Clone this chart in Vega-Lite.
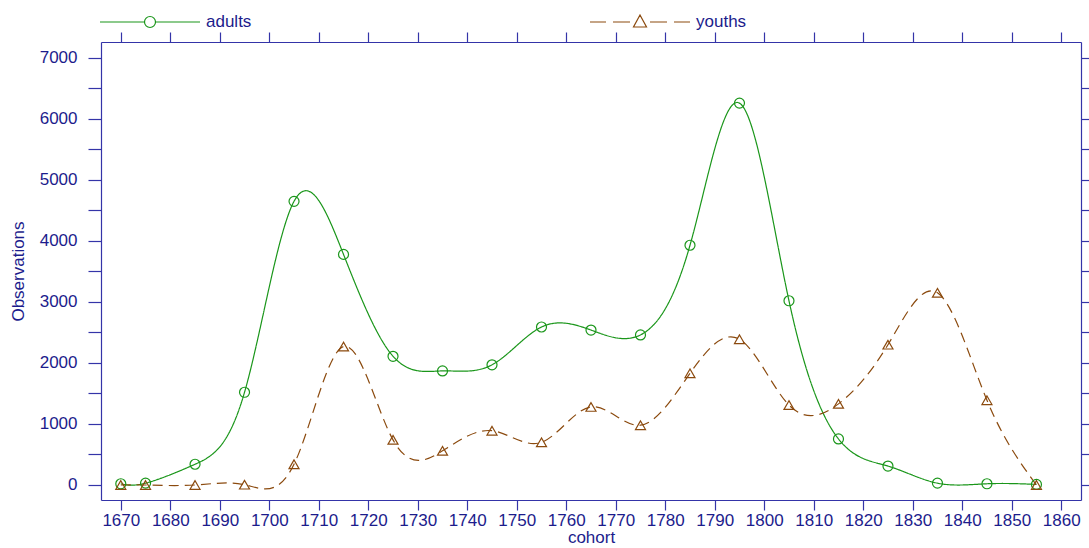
{
  "$schema": "https://vega.github.io/schema/vega-lite/v6.json",
  "width": 980,
  "height": 458,
  "autosize": {"type": "none"},
  "padding": {"left": 101, "top": 42, "right": 8, "bottom": 48},
  "config": {
    "view": {"stroke": null},
    "font": "Liberation Sans",
    "axis": {
      "domainColor": "#3434a8",
      "tickColor": "#3434a8",
      "labelColor": "#1c1c8c",
      "titleColor": "#1c1c8c",
      "labelFont": "Liberation Sans",
      "titleFont": "Liberation Sans",
      "labelFontSize": 17,
      "titleFontSize": 17,
      "titleFontWeight": "normal",
      "grid": false,
      "domainWidth": 1.2,
      "tickWidth": 1.2
    },
    "legend": {
      "labelFont": "Liberation Sans",
      "labelFontSize": 17,
      "labelColor": "#1c1c8c"
    }
  },
  "data": {
    "values": [
      {"cohort": 1670, "series": "adults", "value": 20},
      {"cohort": 1675, "series": "adults", "value": 30},
      {"cohort": 1685, "series": "adults", "value": 340},
      {"cohort": 1695, "series": "adults", "value": 1520},
      {"cohort": 1705, "series": "adults", "value": 4650},
      {"cohort": 1715, "series": "adults", "value": 3780},
      {"cohort": 1725, "series": "adults", "value": 2110},
      {"cohort": 1735, "series": "adults", "value": 1870},
      {"cohort": 1745, "series": "adults", "value": 1970},
      {"cohort": 1755, "series": "adults", "value": 2590},
      {"cohort": 1765, "series": "adults", "value": 2540},
      {"cohort": 1775, "series": "adults", "value": 2460},
      {"cohort": 1785, "series": "adults", "value": 3930},
      {"cohort": 1795, "series": "adults", "value": 6260},
      {"cohort": 1805, "series": "adults", "value": 3020},
      {"cohort": 1815, "series": "adults", "value": 755},
      {"cohort": 1825, "series": "adults", "value": 310},
      {"cohort": 1835, "series": "adults", "value": 30},
      {"cohort": 1845, "series": "adults", "value": 20},
      {"cohort": 1855, "series": "adults", "value": 10},
      {"cohort": 1670, "series": "youths", "value": 0},
      {"cohort": 1675, "series": "youths", "value": 0},
      {"cohort": 1685, "series": "youths", "value": 0},
      {"cohort": 1695, "series": "youths", "value": 5},
      {"cohort": 1705, "series": "youths", "value": 340},
      {"cohort": 1715, "series": "youths", "value": 2270},
      {"cohort": 1725, "series": "youths", "value": 740},
      {"cohort": 1735, "series": "youths", "value": 560},
      {"cohort": 1745, "series": "youths", "value": 890},
      {"cohort": 1755, "series": "youths", "value": 700},
      {"cohort": 1765, "series": "youths", "value": 1280},
      {"cohort": 1775, "series": "youths", "value": 980},
      {"cohort": 1785, "series": "youths", "value": 1830},
      {"cohort": 1795, "series": "youths", "value": 2390},
      {"cohort": 1805, "series": "youths", "value": 1310},
      {"cohort": 1815, "series": "youths", "value": 1330},
      {"cohort": 1825, "series": "youths", "value": 2300},
      {"cohort": 1835, "series": "youths", "value": 3150},
      {"cohort": 1845, "series": "youths", "value": 1390},
      {"cohort": 1855, "series": "youths", "value": 0}
    ]
  },
  "encoding": {
    "color": {
      "field": "series",
      "type": "nominal",
      "scale": {"domain": ["adults", "youths"], "range": ["#1a961a", "#8b4a0e"]},
      "legend": {
        "title": null,
        "orient": "none",
        "legendX": -2,
        "legendY": -71,
        "direction": "horizontal",
        "columns": 2,
        "columnPadding": 335,
        "symbolSize": 10000,
        "symbolStrokeWidth": 1.2,
        "symbolFillColor": "transparent",
        "symbolOpacity": 1,
        "symbolDash": [],
        "labelOffset": 5,
        "symbolType": {"expr": "datum.value === 'adults' ? 'M-1,0L-0.11,0M0.11,0L1,0M-0.11,0A0.11,0.11 0 1,0 0.11,0A0.11,0.11 0 1,0 -0.11,0' : 'M-1,0L-0.68,0M-0.54,0L-0.2,0M0.2,0L0.54,0M0.68,0L1,0M0,-0.14L0.13,0.1L-0.13,0.1Z'"}
      }
    }
  },
  "resolve": {"axis": {"x": "independent", "y": "independent"}},
  "layer": [
    {
      "mark": {"type": "line", "interpolate": "natural", "strokeWidth": 1.2, "opacity": 1},
      "encoding": {
        "x": {
          "field": "cohort",
          "type": "quantitative",
          "scale": {"domain": [1666, 1864], "nice": false, "zero": false},
          "axis": {
            "orient": "bottom",
            "title": "cohort",
            "values": [1670,1680,1690,1700,1710,1720,1730,1740,1750,1760,1770,1780,1790,1800,1810,1820,1830,1840,1850,1860],
            "format": "d",
            "tickSize": 10,
            "labelPadding": 2,
            "titlePadding": 1,
            "labelFlush": false,
            "labelOverlap": false
          }
        },
        "y": {
          "field": "value",
          "type": "quantitative",
          "scale": {"domain": [-246, 7262], "nice": false, "zero": false},
          "axis": {
            "orient": "left",
            "title": "Observations",
            "values": [0,500,1000,1500,2000,2500,3000,3500,4000,4500,5000,5500,6000,6500,7000],
            "labelExpr": "datum.value % 1000 === 0 ? datum.label : ''",
            "format": "d",
            "tickSize": 13,
            "labelPadding": 11,
            "titlePadding": 12,
            "labelFlush": false,
            "labelOverlap": false
          }
        },
        "strokeDash": {
          "condition": {"test": "datum.series === 'youths'", "value": [10, 6]},
          "value": [1, 0]
        }
      }
    },
    {
      "mark": {"type": "point", "filled": false, "size": 100, "strokeWidth": 1.2, "opacity": 1},
      "encoding": {
        "x": {
          "field": "cohort",
          "type": "quantitative",
          "axis": {
            "orient": "top",
            "title": null,
            "values": [1670,1680,1690,1700,1710,1720,1730,1740,1750,1760,1770,1780,1790,1800,1810,1820,1830,1840,1850,1860],
            "labels": false,
            "tickSize": 10
          }
        },
        "y": {
          "field": "value",
          "type": "quantitative",
          "axis": {
            "orient": "right",
            "title": null,
            "values": [0,500,1000,1500,2000,2500,3000,3500,4000,4500,5000,5500,6000,6500,7000],
            "labels": false,
            "tickSize": 8
          }
        },
        "shape": {
          "condition": {"test": "datum.series === 'youths'", "value": "triangle-up"},
          "value": "circle"
        }
      }
    }
  ]
}
